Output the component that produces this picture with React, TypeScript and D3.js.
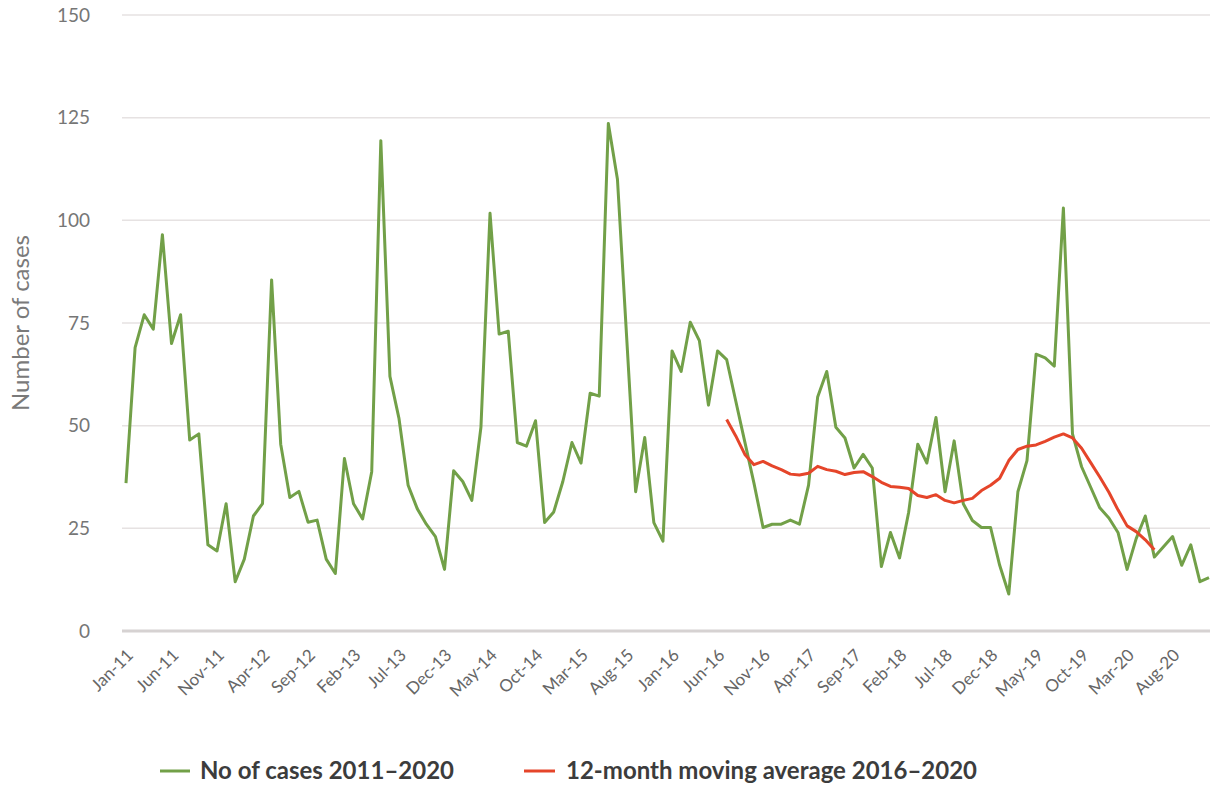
import React from "react";
import * as d3 from "d3";

const MONTHS = ["Jan", "Feb", "Mar", "Apr", "May", "Jun", "Jul", "Aug", "Sep", "Oct", "Nov", "Dec"];
const YEARS = ["11", "12", "13", "14", "15", "16", "17", "18", "19", "20"];
const categories: string[] = YEARS.flatMap((y) => MONTHS.map((m) => `${m}-${y}`));

const cases: number[] = [
  36, 69, 77, 73.5, 96.5, 70, 77, 46.5, 48, 21,
  19.5, 31, 12, 17.5, 28, 31, 85.5, 45.5, 32.5, 34,
  26.5, 27, 17.5, 14, 42, 31, 27.3, 38.8, 119.4, 62,
  51.7, 35.5, 29.8, 26, 23, 15, 39, 36.4, 31.8, 49.6,
  101.7, 72.3, 73, 45.9, 45, 51.2, 26.4, 29, 36.4, 45.9,
  40.9, 57.9, 57.2, 123.6, 110, 72, 33.9, 47.1, 26.4, 21.9,
  68.2, 63.2, 75.2, 70.7, 55, 68.2, 66.1, 56, 46, 36,
  25.2, 26, 26, 27, 26, 35.5, 57, 63.2, 49.6, 47,
  39.7, 43, 39.7, 15.7, 24, 17.8, 28.9, 45.5, 40.9, 52,
  33.9, 46.3, 31, 26.9, 25.2, 25.2, 16, 9, 33.9, 41.5,
  67.4, 66.5, 64.5, 103, 48, 40, 35, 30, 27.5, 24,
  15, 22.5, 28, 18, 20.5, 23, 16, 21, 12, 13,
];

const movingAvgStart = "Jul-16";
const movingAvg: number[] = [
  51.5, 47.5, 43, 40.5, 41.3, 40.2, 39.3, 38.2, 38, 38.4,
  40.1, 39.3, 38.9, 38.1, 38.6, 38.8, 37.6, 36.2, 35.2, 35,
  34.7, 33, 32.5, 33.2, 31.8, 31.2, 31.8, 32.3, 34.2, 35.5,
  37.2, 41.5, 44.2, 45, 45.3, 46.2, 47.2, 48, 47, 44.5,
  41, 37.5, 33.8, 29.5, 25.6, 24.2, 22.2, 19.8,
];

const yTicks = [0, 25, 50, 75, 100, 125, 150];
const tickEvery = 5;
const seriesNames = ["No of cases 2011\u20132020", "12-month moving average 2016\u20132020"];

const W = 1210;
const H = 792;
const FONT = "Lato, 'Open Sans', sans-serif";
const GREEN = "#72a048";
const RED = "#e5452a";

export default function App() {
  const x = d3.scalePoint<string>().domain(categories).range([126, 1209]);
  const y = d3.scaleLinear().domain([0, 150]).range([631, 15]);

  const line = d3
    .line<[string, number]>()
    .x((d) => x(d[0]) as number)
    .y((d) => y(d[1]));

  const casePts: [string, number][] = categories.map((c, i) => [c, cases[i]]);
  const startIdx = categories.indexOf(movingAvgStart);
  const maPts: [string, number][] = movingAvg.map((v, i) => [categories[startIdx + i], v]);

  const tickCats = categories.filter((_, i) => i % tickEvery === 0);

  return (
    <svg
      width={W}
      height={H}
      style={{ position: "absolute", left: 0, top: 0, background: "#fff" }}
      fontFamily={FONT}
    >
      <rect width={W} height={H} fill="#fff" />
      {yTicks.map((t) => (
        <g key={t}>
          <line
            x1={122}
            x2={1210}
            y1={y(t)}
            y2={y(t)}
            stroke={t === 0 ? "#d6d2d2" : "#e6e2e2"}
            strokeWidth={t === 0 ? 3 : 1.5}
          />
          <text x={90} y={y(t)} dy="0.35em" textAnchor="end" fontSize={19} fill="#767676">
            {t}
          </text>
        </g>
      ))}
      <text
        transform={`translate(21, ${y(75)}) rotate(-90)`}
        textAnchor="middle"
        dy="0.35em"
        fontSize={24}
        fill="#7a7a7a"
      >
        Number of cases
      </text>
      {tickCats.map((c) => (
        <text
          key={c}
          transform={`translate(${(x(c) as number) + 4}, 652) rotate(-45)`}
          textAnchor="end"
          dy="0.35em"
          fontSize={17}
          fill="#666"
        >
          {c}
        </text>
      ))}
      <path d={line(casePts) || ""} fill="none" stroke={GREEN} strokeWidth={3} strokeLinejoin="round" />
      <path d={line(maPts) || ""} fill="none" stroke={RED} strokeWidth={3} strokeLinejoin="round" />
      <g fontSize={24} fontWeight={700} fill="#3c3c3c">
        <line x1={160} x2={190} y1={771} y2={771} stroke={GREEN} strokeWidth={3} />
        <text x={200} y={771} dy="0.35em">{seriesNames[0]}</text>
        <line x1={524} x2={555} y1={771} y2={771} stroke={RED} strokeWidth={3} />
        <text x={566} y={771} dy="0.35em">{seriesNames[1]}</text>
      </g>
    </svg>
  );
}
